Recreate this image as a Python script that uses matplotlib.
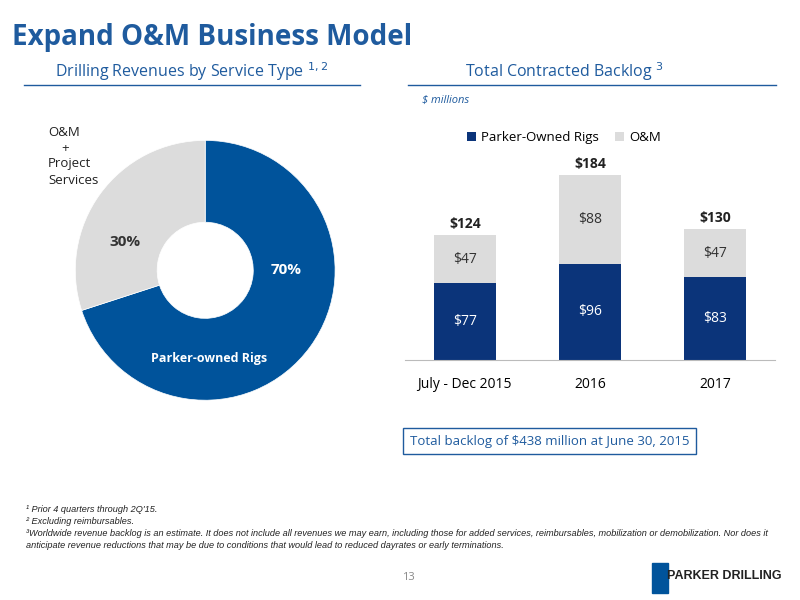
import matplotlib
matplotlib.use("Agg")
from matplotlib import pyplot as plt

plt.rcParams['font.family'] = ['Open Sans', 'DejaVu Sans']

pie_labels = ["Parker-owned Rigs", "O&M + Project Services"]
pie_values = [70, 30]

periods = ["July - Dec 2015", "2016", "2017"]
rigs = [77, 96, 83]
om = [47, 88, 47]
totals = [124, 184, 130]

title_blue = "#1F5B9E"
pie_blue = "#00539B"
bar_blue = "#0B347A"
grey = "#DCDCDC"

fig = plt.figure(figsize=(8, 6), dpi=100)

fig.text(0.015, 0.937, "Expand O&M Business Model", fontsize=20, fontweight="bold", color=title_blue, va="center")
fig.text(0.24, 0.88, "Drilling Revenues by Service Type $^{1,2}$", fontsize=11.5, color=title_blue, ha="center", va="center")
fig.text(0.705, 0.88, "Total Contracted Backlog $^{3}$", fontsize=11.5, color=title_blue, ha="center", va="center")
fig.add_artist(plt.Line2D([0.03, 0.45], [0.858, 0.858], color=title_blue, lw=1))
fig.add_artist(plt.Line2D([0.51, 0.97], [0.858, 0.858], color=title_blue, lw=1))
fig.text(0.528, 0.833, "$ millions", fontsize=8, color=title_blue, style="italic", va="center")

# donut
ax1 = fig.add_axes([0.094, 0.333, 0.325, 0.433])
ax1.pie(pie_values, colors=[pie_blue, grey], startangle=90, counterclock=False,
        wedgeprops=dict(width=0.63, edgecolor="white", linewidth=0.5))
ax1.set_xlim(-1.0, 1.0)
ax1.set_ylim(-1.0, 1.0)
ax1.set_aspect("equal")
ax1.text(0.62, 0.0, "70%", color="white", fontsize=11, fontweight="bold", ha="center", va="center")
ax1.text(-0.62, 0.22, "30%", color="#333333", fontsize=11, fontweight="bold", ha="center", va="center")
ax1.text(0.03, -0.68, "Parker-owned Rigs", color="white", fontsize=9, fontweight="bold", ha="center", va="center")
fig.text(0.06, 0.74, "O&M\n    +\nProject\nServices", fontsize=9.5, color="#222222", va="center", linespacing=1.3)

# stacked bars
ax2 = fig.add_axes([0.506, 0.4, 0.463, 0.41])
x = range(len(periods))
ax2.bar(x, rigs, width=0.5, color=bar_blue, label="Parker-Owned Rigs")
ax2.bar(x, om, width=0.5, bottom=rigs, color=grey, label="O&M")
for i in x:
    ax2.text(i, rigs[i] / 2, "$%d" % rigs[i], color="white", fontsize=10, ha="center", va="center")
    ax2.text(i, rigs[i] + om[i] / 2, "$%d" % om[i], color="#333333", fontsize=10, ha="center", va="center")
    ax2.text(i, totals[i] + 4, "$%d" % totals[i], color="#222222", fontsize=10, fontweight="bold", ha="center", va="bottom")
ax2.set_xlim(-0.48, 2.48)
ax2.set_ylim(0, 245)
ax2.set_xticks(list(x))
ax2.set_xticklabels(periods, fontsize=10)
ax2.set_yticks([])
for s in ["top", "right", "left"]:
    ax2.spines[s].set_visible(False)
ax2.spines["bottom"].set_color("#BBBBBB")
ax2.tick_params(axis="x", length=0, pad=12)
ax2.legend(loc="upper center", bbox_to_anchor=(0.43, 0.98), ncol=2, frameon=False, fontsize=9.5,
           handlelength=0.7, handleheight=0.7, columnspacing=1.2, handletextpad=0.4)

fig.text(0.687, 0.265, "Total backlog of $438 million at June 30, 2015", fontsize=9.5, color=title_blue,
         ha="center", va="center",
         bbox=dict(boxstyle="square,pad=0.5", facecolor="white", edgecolor=title_blue, linewidth=1))

foot = ("¹ Prior 4 quarters through 2Q'15.\n"
        "² Excluding reimbursables.\n"
        "³Worldwide revenue backlog is an estimate. It does not include all revenues we may earn, including those for added services, reimbursables, mobilization or demobilization. Nor does it\n"
        "anticipate revenue reductions that may be due to conditions that would lead to reduced dayrates or early terminations.")
fig.text(0.033, 0.158, foot, fontsize=6.6, style="italic", color="#222222", va="top", linespacing=1.4,
         family=['Liberation Sans', 'DejaVu Sans'])

fig.text(0.51, 0.037, "13", fontsize=8, color="#888888", ha="center", va="center")
fig.text(0.905, 0.04, "PARKER DRILLING", fontsize=9, fontweight="bold", color="#222222", ha="center", va="center",
         family=['Liberation Sans', 'DejaVu Sans'])
fig.add_artist(plt.Rectangle((0.815, 0.012), 0.02, 0.05, color=pie_blue, transform=fig.transFigure))

fig.savefig("out.png", dpi=100, facecolor="white")
